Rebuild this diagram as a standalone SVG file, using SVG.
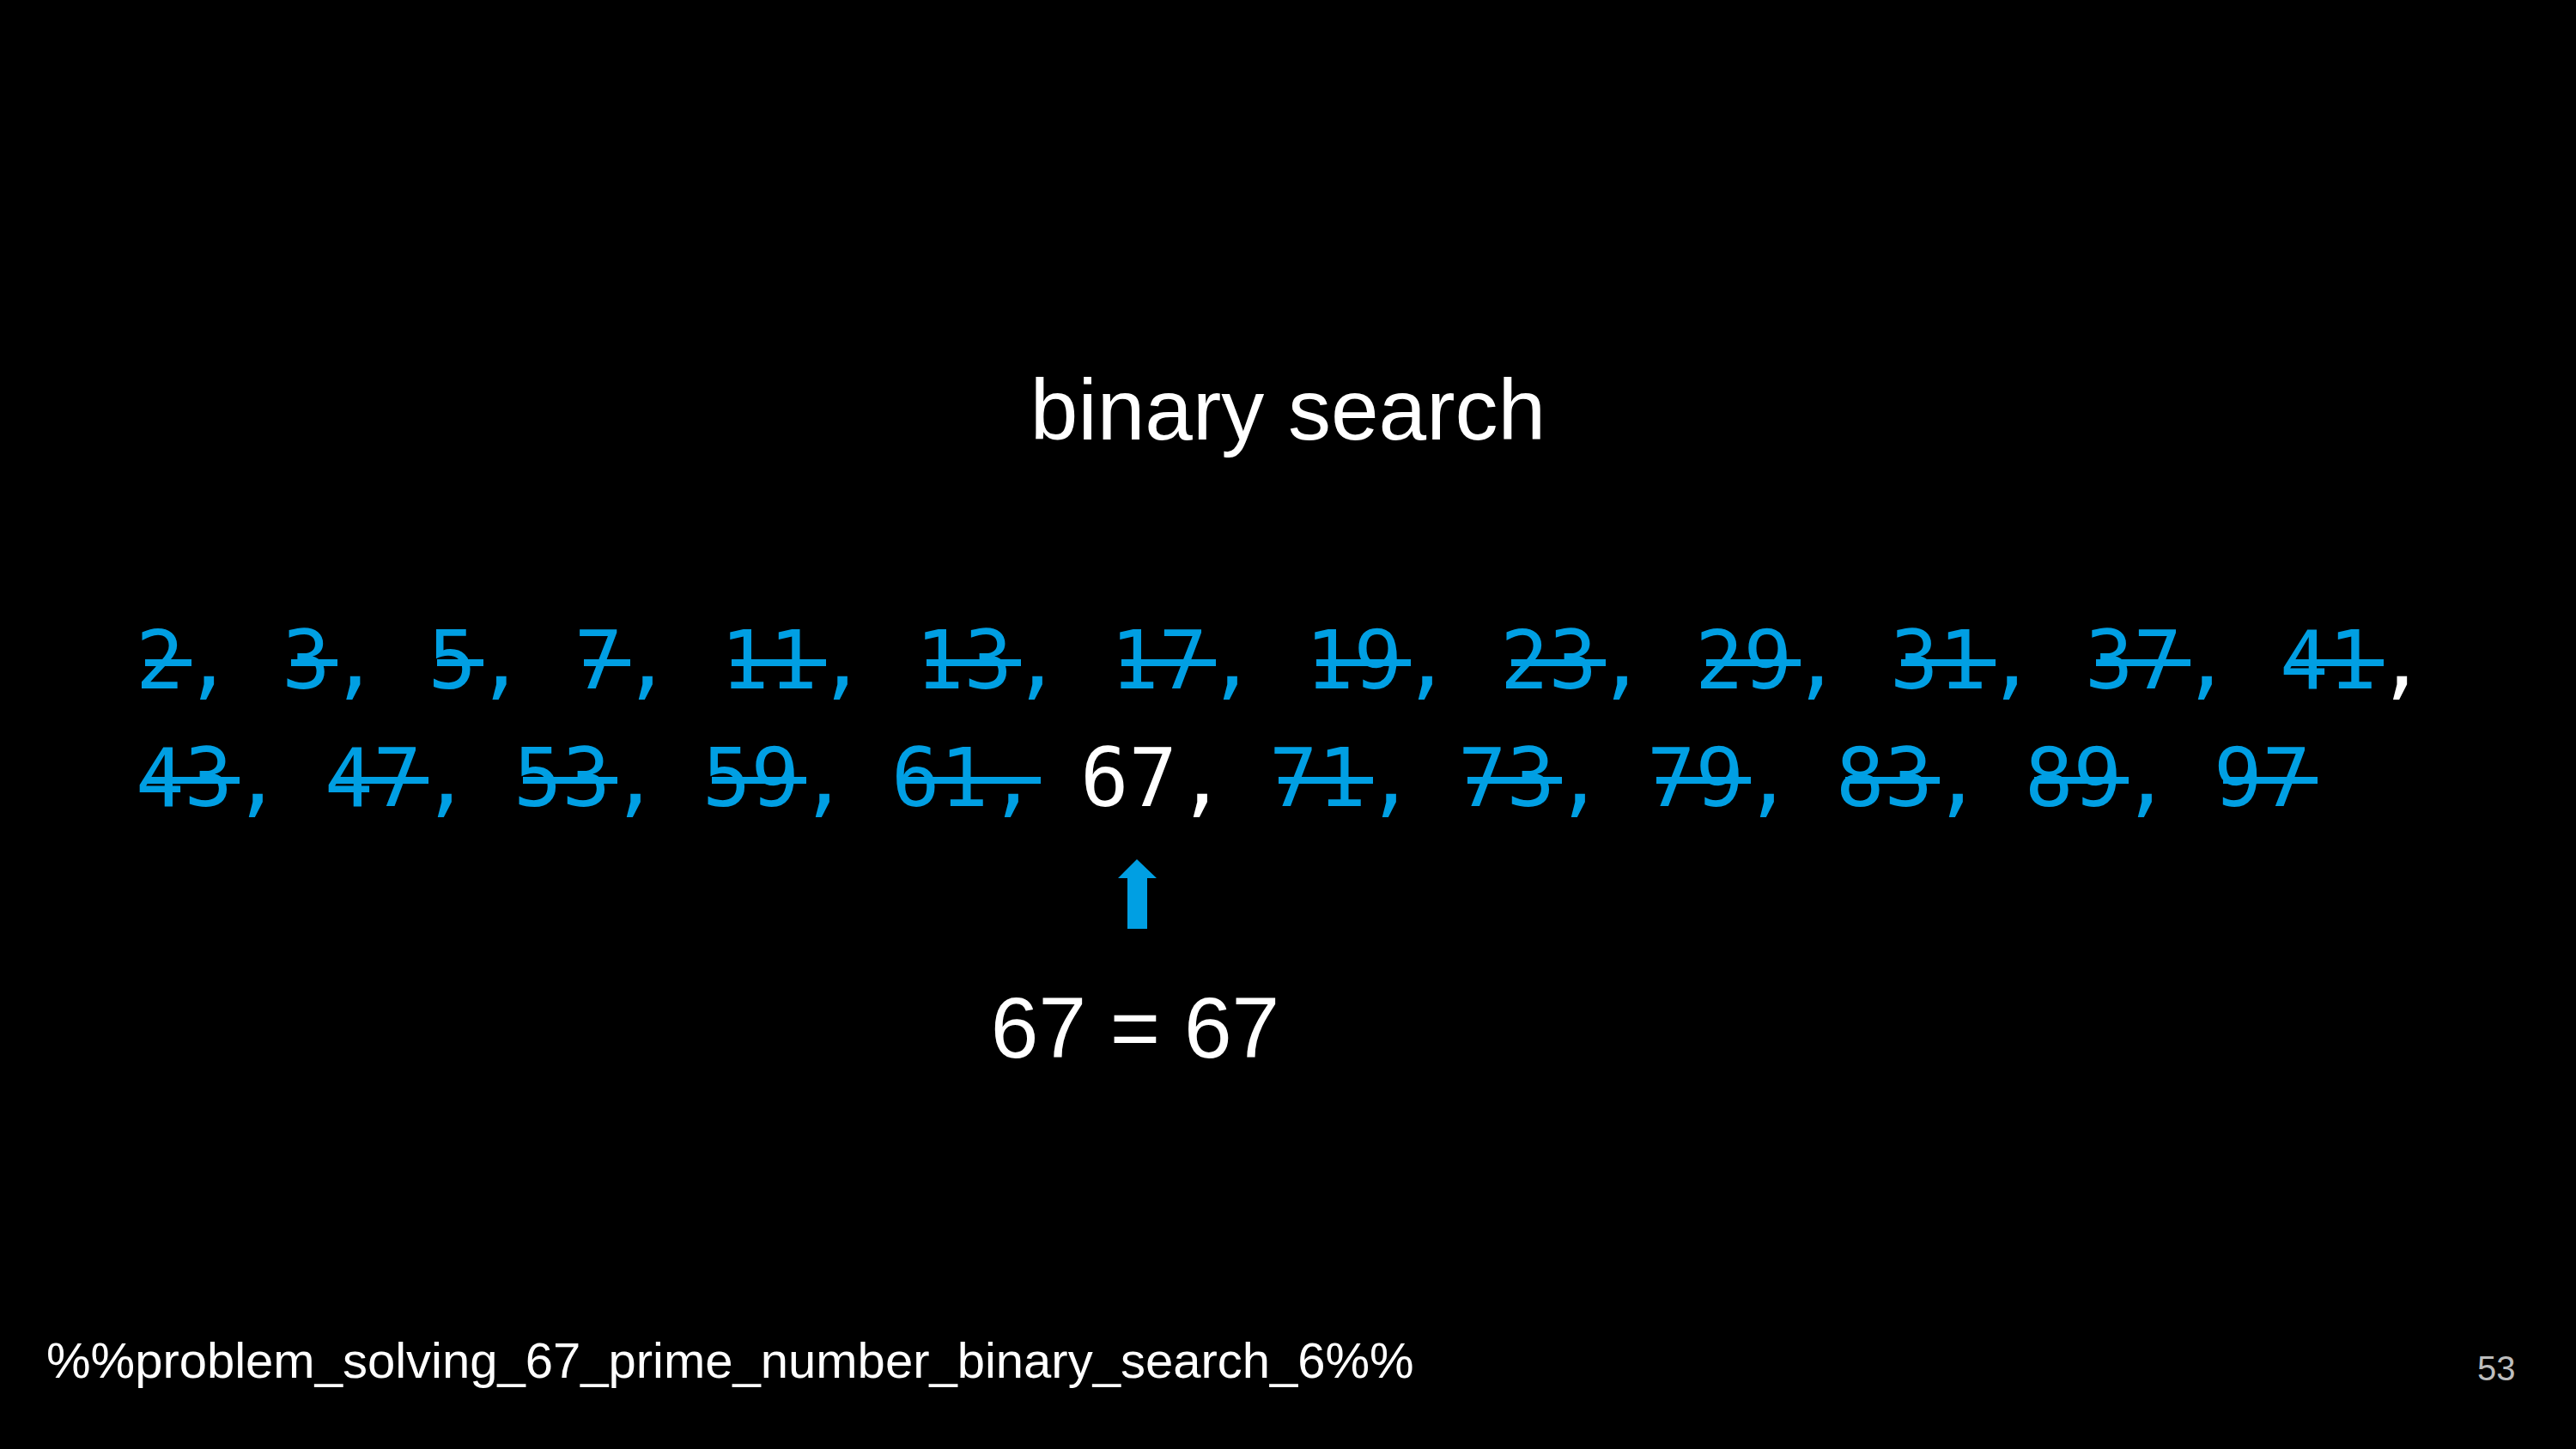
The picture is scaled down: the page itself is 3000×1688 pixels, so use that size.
<svg xmlns="http://www.w3.org/2000/svg" width="3000" height="1688" viewBox="0 0 3000 1688">
  <style>
    .sans { font-family: "Liberation Sans", Arial, sans-serif; fill: #ffffff; }
    .title { font-size: 100px; }
    .num { font-family: "DejaVu Sans Mono", "Liberation Mono", monospace; font-size: 94px; fill: #009fe3; }
    .w { fill: #ffffff; }
    .strike { fill: #009fe3; }
    .foot { font-size: 58px; }
    .page { font-size: 40px; fill: #bdbdbd; }
  </style>
  <rect x="0" y="0" width="3000" height="1688" fill="#000000"/>

  <g id="title">
    <text class="sans title" x="1500" y="512" text-anchor="middle">binary search</text>
  </g>

  <!-- list of primes below 100 -->
  <g id="row1">
    <text class="num" y="802">
      <tspan x="158">2,</tspan>
      <tspan x="328.25">3,</tspan>
      <tspan x="498.5">5,</tspan>
      <tspan x="668.75">7,</tspan>
      <tspan x="839">11,</tspan>
      <tspan x="1066">13,</tspan>
      <tspan x="1293">17,</tspan>
      <tspan x="1520">19,</tspan>
      <tspan x="1747">23,</tspan>
      <tspan x="1974">29,</tspan>
      <tspan x="2201">31,</tspan>
      <tspan x="2428">37,</tspan>
      <tspan x="2655">41</tspan><tspan x="2768.5" class="w">,</tspan>
    </text>
    <g class="strike">
      <rect x="169" y="768" width="54" height="8"/>
      <rect x="339" y="768" width="54" height="8"/>
      <rect x="509" y="768" width="54" height="8"/>
      <rect x="680" y="768" width="54" height="8"/>
      <rect x="852" y="768" width="110" height="8"/>
      <rect x="1079" y="768" width="110" height="8"/>
      <rect x="1306" y="768" width="110" height="8"/>
      <rect x="1533" y="768" width="110" height="8"/>
      <rect x="1760" y="768" width="110" height="8"/>
      <rect x="1987" y="768" width="110" height="8"/>
      <rect x="2214" y="768" width="110" height="8"/>
      <rect x="2441" y="768" width="110" height="8"/>
      <rect x="2666" y="768" width="110" height="8"/>
    </g>
  </g>

  <g id="row2">
    <text class="num" y="939">
      <tspan x="158">43,</tspan>
      <tspan x="378">47,</tspan>
      <tspan x="598">53,</tspan>
      <tspan x="818">59,</tspan>
      <tspan x="1038">61,</tspan>
      <tspan x="1258" class="w">67,</tspan>
      <tspan x="1478">71,</tspan>
      <tspan x="1698">73,</tspan>
      <tspan x="1918">79,</tspan>
      <tspan x="2138">83,</tspan>
      <tspan x="2358">89,</tspan>
      <tspan x="2578">97</tspan>
    </text>
    <g class="strike">
      <rect x="169" y="905" width="110" height="8"/>
      <rect x="389" y="905" width="110" height="8"/>
      <rect x="609" y="905" width="110" height="8"/>
      <rect x="829" y="905" width="110" height="8"/>
      <rect x="1049" y="905" width="163" height="8"/>
      <rect x="1489" y="905" width="110" height="8"/>
      <rect x="1709" y="905" width="110" height="8"/>
      <rect x="1929" y="905" width="110" height="8"/>
      <rect x="2149" y="905" width="110" height="8"/>
      <rect x="2369" y="905" width="110" height="8"/>
      <rect x="2589" y="905" width="110" height="8"/>
    </g>
  </g>

  <!-- pointer under the matched value -->
  <g id="pointer">
    <polygon points="1324,1001 1347,1023 1336,1023 1336,1082 1313,1082 1313,1023 1302,1023" fill="#009fe3"/>
  </g>

  <g id="result">
    <text class="sans title" x="1322" y="1232" text-anchor="middle">67 = 67</text>
  </g>

  <g id="footer">
    <text class="sans foot" x="54" y="1605">%%problem_solving_67_prime_number_binary_search_6%%</text>
    <text class="sans page" x="2885" y="1608">53</text>
  </g>
</svg>
